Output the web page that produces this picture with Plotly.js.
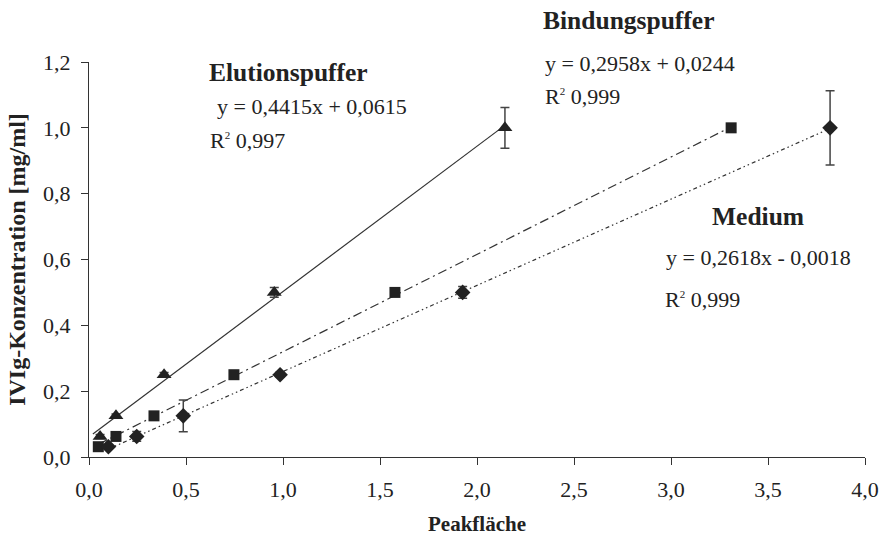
<!DOCTYPE html>
<html>
<head>
<meta charset="utf-8">
<script src="https://cdn.plot.ly/plotly-3.0.1.min.js"></script>
<style>html,body{margin:0;padding:0;background:#fff;}#chart{width:880px;height:544px;}</style>
</head>
<body>
<div id="chart"></div>
<script>
// Elutionspuffer (triangles)
const elutionX = [0.057, 0.139, 0.387, 0.955, 2.144];
const elutionY = [0.0625, 0.125, 0.25, 0.5, 1.0];
const elutionErr = [0.006, 0.006, 0.007, 0.015, 0.062];
// Bindungspuffer (squares)
const bindungX = [0.048, 0.139, 0.335, 0.747, 1.577, 3.31];
const bindungY = [0.03125, 0.0625, 0.125, 0.25, 0.5, 1.0];
const bindungErr = [0.003, 0.004, 0.004, 0.005, 0.006, 0.004];
// Medium (diamonds)
const mediumX = [0.10, 0.246, 0.486, 0.985, 1.926, 3.82];
const mediumY = [0.03125, 0.0625, 0.125, 0.25, 0.5, 1.0];
const mediumErr = [0.004, 0.015, 0.048, 0.008, 0.018, 0.113];
// Trendline end points
const elutionLineX = [0.02, 2.14];
const elutionLineY = [0.070, 1.006];
const bindungLineX = [0.05, 3.31];
const bindungLineY = [0.039, 1.003];
const mediumLineX = [0.10, 3.82];
const mediumLineY = [0.024, 0.998];
// Tick labels
const xTicks = [0, 0.5, 1.0, 1.5, 2.0, 2.5, 3.0, 3.5, 4.0];
const yTicks = [0, 0.2, 0.4, 0.6, 0.8, 1.0, 1.2];

const ink = '#222';
const serif = 'Liberation Serif, Times New Roman, serif';

function markerTrace(x, y, err, symbol, size) {
  return {
    x: x, y: y, type: 'scatter', mode: 'markers',
    marker: {symbol: symbol, size: size, color: ink},
    error_y: {type: 'data', array: err, visible: true, color: '#444', thickness: 1.5, width: 4.5},
    showlegend: false, hoverinfo: 'x+y', cliponaxis: false
  };
}
function lineTrace(x, y, dash) {
  return {x: x, y: y, type: 'scatter', mode: 'lines',
    line: {color: '#333', width: 1.2, dash: dash}, showlegend: false, hoverinfo: 'skip'};
}

const data = [
  lineTrace(elutionLineX, elutionLineY, 'solid'),
  lineTrace(bindungLineX, bindungLineY, '9px,4px,2px,4px'),
  lineTrace(mediumLineX, mediumLineY, '4px,3px,1.5px,3px,1.5px,3px'),
  markerTrace(elutionX, elutionY, elutionErr, 'triangle-up', 13),
  markerTrace(bindungX, bindungY, bindungErr, 'square', 11),
  markerTrace(mediumX, mediumY, mediumErr, 'diamond', 12)
];

const bold = {family: serif, size: 25.5, color: ink};
const reg = {family: serif, size: 22, color: ink};
const R2 = 'R<sup><span style="font-size:11px">2</span></sup> ';
function ann(x, y, text, font, yref) {
  return {x: x, y: y, xref: 'x', yref: yref || 'y', text: text, showarrow: false,
    xanchor: 'left', yanchor: 'middle', font: font};
}

const layout = {
  width: 880, height: 544,
  margin: {l: 89, r: 15, t: 62, b: 87},
  paper_bgcolor: '#fff', plot_bgcolor: '#fff',
  separators: ',.',
  font: {family: serif, color: ink},
  xaxis: {
    range: [0, 4.0], tickvals: xTicks, tickformat: '.1f',
    showgrid: false, zeroline: false, showline: true, linecolor: '#333', linewidth: 1,
    ticks: 'outside', ticklen: 7, tickcolor: '#333',
    ticklabelstandoff: 6,
    tickfont: {family: serif, size: 22, color: ink},
    title: {text: '<b>Peakfläche</b>', font: {family: serif, size: 21, color: ink}, standoff: 14}
  },
  yaxis: {
    range: [0, 1.2], tickvals: yTicks, tickformat: '.1f',
    showgrid: false, zeroline: false, showline: true, linecolor: '#333', linewidth: 1,
    ticks: 'outside', ticklen: 7, tickcolor: '#333',
    ticklabelstandoff: 6,
    tickfont: {family: serif, size: 22, color: ink},
    title: {text: '<b>IVIg-Konzentration [mg/ml]</b>', font: {family: serif, size: 24, color: ink}, standoff: 10}
  },
  annotations: [
    ann(0.61, 1.169, '<b>Elutionspuffer</b>', bold),
    ann(0.65, 1.066, 'y = 0,4415x + 0,0615', reg),
    ann(0.613, 0.963, R2 + '0,997', reg),
    ann(2.33, 1.106, '<b>Bindungspuffer</b>', bold, 'paper'),
    ann(2.34, 1.194, 'y = 0,2958x + 0,0244', reg),
    ann(2.34, 1.094, R2 + '0,999', reg),
    ann(3.2, 0.732, '<b>Medium</b>', bold),
    ann(2.964, 0.605, 'y = 0,2618x - 0,0018', reg),
    ann(2.959, 0.480, R2 + '0,999', reg)
  ]
};

Plotly.newPlot('chart', data, layout, {displayModeBar: false, staticPlot: true});
</script>
</body>
</html>
